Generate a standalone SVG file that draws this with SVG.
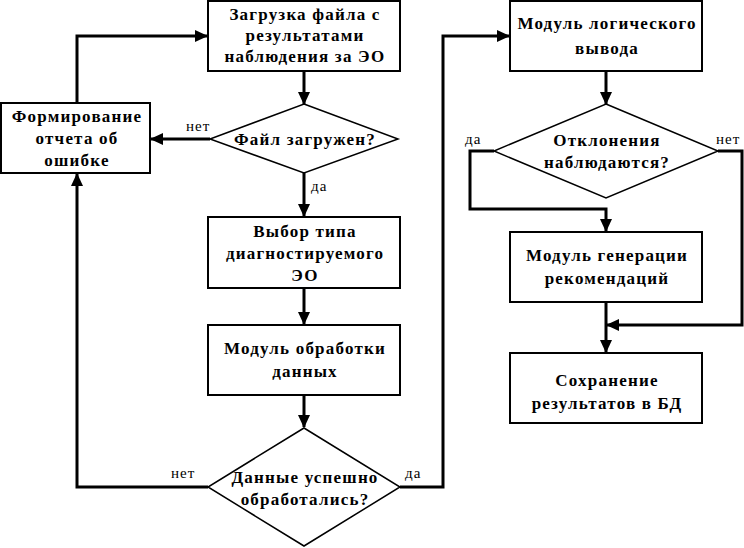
<svg xmlns="http://www.w3.org/2000/svg" width="744" height="548" viewBox="0 0 744 548">
<defs>
<marker id="ah" markerUnits="userSpaceOnUse" markerWidth="13" markerHeight="12" refX="12" refY="6" orient="auto">
<path d="M0,0 L13,6 L0,12 z" fill="#000"/>
</marker>
</defs>
<rect width="744" height="548" fill="#fff"/>
<g id="connectors" fill="none" stroke="#000" stroke-width="3" marker-end="url(#ah)">
<path d="M304,71 V104"/>
<path d="M210,139 H151"/>
<path d="M77,103 V36 H207"/>
<path d="M208,487 H77 V174"/>
<path d="M304,173 V216"/>
<path d="M304,288 V324"/>
<path d="M304,396 V427"/>
<path d="M400,487 H443 V36 H509"/>
<path d="M606,71 V104"/>
<path d="M494,151 H470 V209 H606 V231"/>
<path d="M606,302 V352"/>
<path d="M718,151 H742 V325 H607"/>
</g>
<g id="labels" font-family="Liberation Serif, Tinos, serif" font-size="15" letter-spacing="1" fill="#000">
<text x="186" y="131">нет</text>
<text x="311" y="191">да</text>
<text x="171" y="478">нет</text>
<text x="405" y="478">да</text>
<text x="465" y="144">да</text>
<text x="716" y="144">нет</text>
</g>
<g id="nodes" font-family="Liberation Serif, Tinos, serif" font-weight="bold" font-size="17" text-anchor="middle" letter-spacing="1.2">
<g id="n1"><rect x="208" y="1" width="192" height="70" fill="#fff" stroke="#000" stroke-width="2"/>
<text x="305" y="20">Загрузка файла с</text><text x="305" y="41">результатами</text><text x="305" y="62">наблюдения за ЭО</text></g>
<g id="n2"><polygon points="304,104 398,139 304,173 210,139" fill="#fff" stroke="#000" stroke-width="1.5"/>
<text x="305" y="145">Файл загружен?</text></g>
<g id="n3"><rect x="1" y="103" width="149" height="70" fill="#fff" stroke="#000" stroke-width="2"/>
<text x="77" y="122">Формирование</text><text x="77" y="144">отчета об</text><text x="77" y="166">ошибке</text></g>
<g id="n4"><rect x="208" y="217" width="192" height="71" fill="#fff" stroke="#000" stroke-width="2"/>
<text x="305" y="237">Выбор типа</text><text x="305" y="259">диагностируемого</text><text x="305" y="281">ЭО</text></g>
<g id="n5"><rect x="208" y="325" width="192" height="70" fill="#fff" stroke="#000" stroke-width="2"/>
<text x="305" y="354">Модуль обработки</text><text x="305" y="377">данных</text></g>
<g id="n6"><polygon points="304,428 400,487 304,546 208,487" fill="#fff" stroke="#000" stroke-width="1.5"/>
<text x="305" y="483">Данные успешно</text><text x="305" y="505">обработались?</text></g>
<g id="n7"><rect x="510" y="1" width="192" height="70" fill="#fff" stroke="#000" stroke-width="2"/>
<text x="607" y="29">Модуль логического</text><text x="607" y="54">вывода</text></g>
<g id="n8"><polygon points="606,104 718,151 606,198 494,151" fill="#fff" stroke="#000" stroke-width="1.5"/>
<text x="607" y="146">Отклонения</text><text x="607" y="168">наблюдаются?</text></g>
<g id="n9"><rect x="510" y="232" width="192" height="70" fill="#fff" stroke="#000" stroke-width="2"/>
<text x="607" y="261">Модуль генерации</text><text x="607" y="284">рекомендаций</text></g>
<g id="n10"><rect x="510" y="353" width="192" height="70" fill="#fff" stroke="#000" stroke-width="2"/>
<text x="607" y="386">Сохранение</text><text x="607" y="409">результатов в БД</text></g>
</g>
</svg>
